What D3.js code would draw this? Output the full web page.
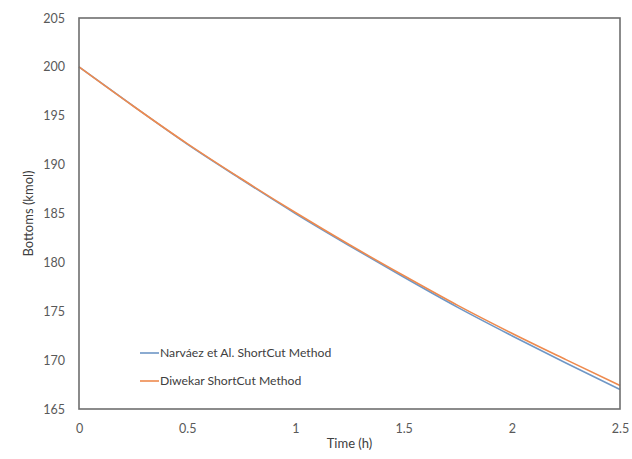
<!DOCTYPE html>
<html>
<head>
<meta charset="utf-8">
<script src="https://cdn.jsdelivr.net/npm/d3@7"></script>
<style>
  html, body { margin: 0; padding: 0; background: #fff; }
  svg { display: block; }
  text { font-family: Lato, "Open Sans", "Liberation Sans", sans-serif; }
</style>
</head>
<body>
<svg id="chart" width="632" height="459"></svg>
<script>
// Batch distillation: moles left in the bottoms over time, two shortcut methods
const timeH = [0, 0.25, 0.5, 0.75, 1, 1.25, 1.5, 1.75, 2, 2.25, 2.5];
const narvaezBottoms = [200.0, 196.0, 192.1, 188.5, 185.0, 181.7, 178.5, 175.4, 172.5, 169.7, 167.0];
const diwekarBottoms = [200.0, 196.0, 192.15, 188.55, 185.1, 181.8, 178.65, 175.6, 172.75, 170.05, 167.4];
const seriesNames = ["Narváez et Al. ShortCut Method", "Diwekar ShortCut Method"];
const xTicks = [0, 0.5, 1, 1.5, 2, 2.5];
const yTicks = [165, 170, 175, 180, 185, 190, 195, 200, 205];

const series = [
  { name: seriesNames[0], values: narvaezBottoms, color: "#6f97c6" },
  { name: seriesNames[1], values: diwekarBottoms, color: "#ee8a4e" }
];

const svg = d3.select("#chart");
const m = { left: 79, right: 12, top: 18, bottom: 50 };
const W = 632, H = 459;

const x = d3.scaleLinear().domain([0, 2.5]).range([m.left, W - m.right]);
const y = d3.scaleLinear().domain([165, 205]).range([H - m.bottom, m.top]);

// axes: labels only, no tick marks
const xAxis = svg.append("g")
  .attr("transform", `translate(0,${H - m.bottom})`)
  .call(d3.axisBottom(x).tickValues(xTicks).tickSize(0).tickPadding(15).tickFormat(d3.format("")));
const yAxis = svg.append("g")
  .attr("transform", `translate(${m.left},0)`)
  .call(d3.axisLeft(y).tickValues(yTicks).tickSize(0).tickPadding(14));
[xAxis, yAxis].forEach(g => {
  g.select(".domain").remove();
  g.selectAll("text").attr("fill", "#595959").style("font-size", "12.5px")
    .style("font-family", "Lato, 'Open Sans', sans-serif");
});

// lines
const line = d3.line()
  .x((d, i) => x(timeH[i]))
  .y(d => y(d))
  .curve(d3.curveMonotoneX);

series.forEach(s => {
  svg.append("path")
    .datum(s.values)
    .attr("fill", "none")
    .attr("stroke", s.color)
    .attr("stroke-width", 1.6)
    .attr("d", line);
});

// plot-area frame
svg.append("rect")
  .attr("x", m.left).attr("y", m.top)
  .attr("width", W - m.right - m.left)
  .attr("height", H - m.bottom - m.top)
  .attr("fill", "none")
  .attr("stroke", "#6e6e6e")
  .attr("stroke-width", 1.6);

// axis titles
svg.append("text")
  .attr("x", (m.left + W - m.right) / 2).attr("y", 443)
  .attr("dy", "0.35em")
  .attr("text-anchor", "middle")
  .attr("fill", "#404040").style("font-size", "13px")
  .text("Time (h)");
svg.append("text")
  .attr("transform", `translate(28,${(m.top + H - m.bottom) / 2}) rotate(-90)`)
  .attr("dy", "0.35em")
  .attr("text-anchor", "middle")
  .attr("fill", "#404040").style("font-size", "13px")
  .text("Bottoms (kmol)");

// legend inside the plot
const legend = svg.append("g").attr("transform", "translate(140,353)");
series.forEach((s, i) => {
  const g = legend.append("g").attr("transform", `translate(0,${i * 28})`);
  g.append("line").attr("x1", 0).attr("x2", 19).attr("y1", 0).attr("y2", 0)
    .attr("stroke", s.color).attr("stroke-width", 1.6);
  g.append("text").attr("x", 20).attr("y", 0).attr("dy", "0.35em")
    .attr("fill", "#404040").style("font-size", "12.2px")
    .text(s.name);
});
</script>
</body>
</html>
